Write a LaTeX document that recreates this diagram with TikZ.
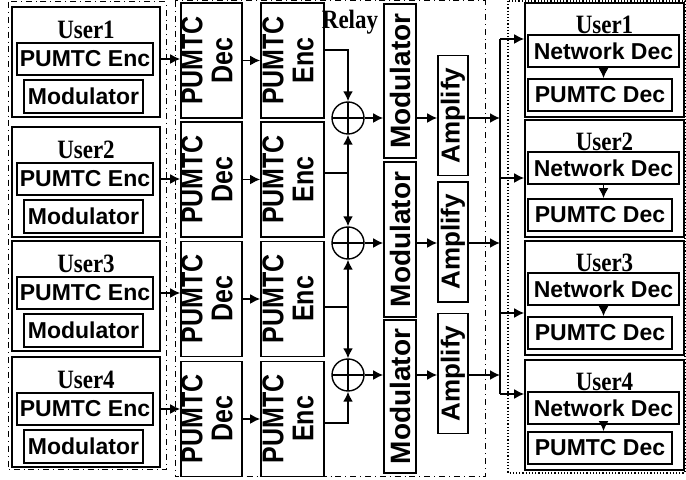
\documentclass[tikz,border=0pt]{standalone}
\usepackage{fontspec}
\setmainfont{Liberation Serif}
\setsansfont{Liberation Sans}
\usetikzlibrary{arrows.meta}
\newcommand{\vtext}[1]{\rotatebox{90}{\scalebox{1}[1.2]{#1}}}

\begin{document}
\begin{tikzpicture}[x=0.5pt, y=-0.5pt, >={Latex[length=5pt,width=5pt]},
  blk/.style={draw, line width=0.8pt, inner sep=0pt, font=\sffamily\bfseries\fontsize{11.5}{12}\selectfont},
  vblk/.style={blk, font=\sffamily\bfseries\fontsize{12.5}{12.5}\selectfont},
  usr/.style={inner sep=0pt, font=\rmfamily\bfseries\fontsize{11.5}{12}\selectfont},
  xor/.style={draw, circle, line width=0.7pt, minimum size=16pt, inner sep=0pt,
    path picture={\draw (path picture bounding box.north) -- (path picture bounding box.south)
      (path picture bounding box.west) -- (path picture bounding box.east);}}]

\useasboundingbox (0,0) rectangle (686,480);

% group frames
\draw[dashdotted, line width=0.5pt] (8,2) rectangle (166,470);
\draw[dashdotted, line width=0.5pt] (175,1) rectangle (485,477);
\draw[densely dotted, line width=0.6pt] (508,1) rectangle (685,473);

% source users
\foreach \t [count=\i] in {7,127,241,357} {
  \node[blk, minimum width=74pt, minimum height=55pt] (u\i) at (86,\t+55) {};
  \node[usr] (ul\i) at (86,\t+23) {\scalebox{1}[1.15]{User\i}};
  \node[blk, minimum width=68pt, minimum height=16pt] (ue\i) at (85,\t+52) {PUMTC Enc};
  \node[blk, minimum width=59.5pt, minimum height=16.5pt] (um\i) at (83.5,\t+89.5) {Modulator};
}

% relay
\node[usr] (relay) at (350,22) {\scalebox{1}[1.15]{Relay}};
\foreach \y [count=\i] in {60.5,179.5,299,419} {
  \node[vblk, minimum width=30.5pt, minimum height=57.5pt] (dec\i) at (211.5,\y)
    {\vtext{\begin{tabular}{@{}c@{}}PUMTC\\Dec\end{tabular}}};
  \node[vblk, minimum width=31.5pt, minimum height=57.5pt] (enc\i) at (292.5,\y)
    {\vtext{\begin{tabular}{@{}c@{}}PUMTC\\Enc\end{tabular}}};
}
\foreach \y [count=\i] in {118,243,375}
  \node[xor] (x\i) at (348,\y) {};
\foreach \y/\h [count=\i] in {81/154,239.5/155,396.5/153}
  \node[blk, font=\sffamily\bfseries\fontsize{14}{15}\selectfont, minimum width=16pt, minimum height=\h*0.5pt]
    (mod\i) at (400,\y) {\rotatebox{90}{Modulator}};
\foreach \y [count=\i] in {115.5,242,373.5}
  \node[blk, font=\sffamily\bfseries\fontsize{13}{14}\selectfont, minimum width=15pt, minimum height=60pt]
    (amp\i) at (453,\y) {\rotatebox{90}{Amplify}};

\coordinate (j1) at (348,50);
\coordinate (j2) at (348,173);
\coordinate (j3) at (348,307);
\coordinate (j4) at (348,423);
\coordinate (bt) at (500,39);
\coordinate (bb) at (500,394);

% destination users
\foreach \t/\h [count=\i] in {3/114,120/117,241/114,360/110} {
  \node[blk, minimum width=79.5pt, minimum height=\h*0.5pt] (ru\i) at (604.5,\t+\h/2) {};
  \node[usr] (rl\i) at (604.5,\t+22) {\scalebox{1}[1.15]{User\i}};
  \node[blk, minimum width=75.5pt, minimum height=16pt] (n\i) at (603.5,\t+48) {Network Dec};
  \node[blk, minimum width=72pt, minimum height=16pt] (p\i) at (600,\t+\h-22) {PUMTC Dec};
}
\foreach \y [count=\i] in {39,178,313,394}
  \coordinate (b\i) at (500,\y);

\begin{scope}[line width=0.9pt,->]
\foreach \i in {1,...,4} {
  \draw (u\i.east |- ue\i) -- (dec\i.west |- ue\i);
  \draw (dec\i) -- (enc\i);
  \draw (b\i) -- (ru\i.west |- b\i);
  \draw (n\i.south) -- (n\i.south |- p\i.north);
}
\draw (enc1.east |- j1) -- (j1) -- (x1.north);
\draw[-] (enc2.east |- j2) -- (j2);
\draw (j2) -- (x1.south);
\draw (j2) -- (x2.north);
\draw[-] (enc3.east |- j3) -- (j3);
\draw (j3) -- (x2.south);
\draw (j3) -- (x3.north);
\draw (enc4.east |- j4) -- (j4) -- (x3.south);
\foreach \i in {1,2,3} {
  \draw (x\i.east) -- (mod\i.west |- x\i);
  \draw (mod\i.east |- x\i) -- (amp\i.west |- x\i);
  \draw (amp\i.east |- x\i) -- (bt |- x\i);
}
\draw[-] (bt) -- (bb);
\end{scope}

\end{tikzpicture}
\end{document}
